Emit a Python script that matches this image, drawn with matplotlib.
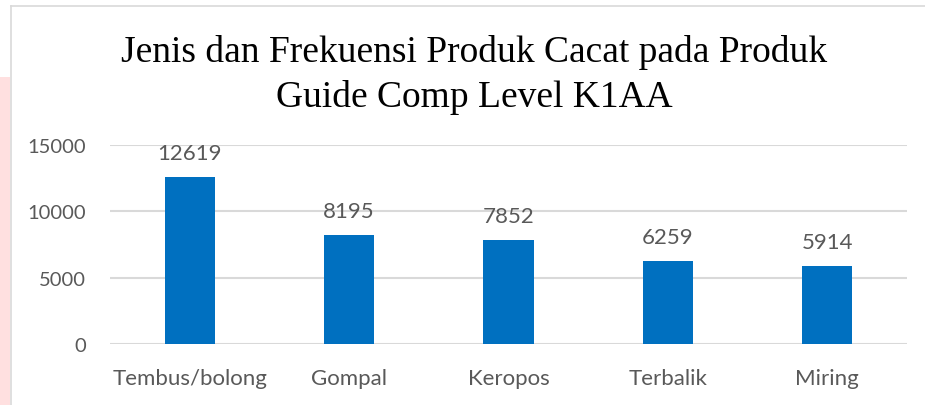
import matplotlib.pyplot as plt
from matplotlib.patches import Rectangle
from matplotlib.lines import Line2D

categories = ["Tembus/bolong", "Gompal", "Keropos", "Terbalik", "Miring"]
frequencies = [12619, 8195, 7852, 6259, 5914]
y_ticks = [0, 5000, 10000, 15000]

bar_color = "#0070C0"
text_color = "#595959"
grid_color = "#D9D9D9"

fig = plt.figure(figsize=(9.25, 4.06), dpi=100)

# pink strip on the left and the chart frame
fig.patches.append(Rectangle((0, 0), 10 / 925, 1 - 78 / 406, transform=fig.transFigure,
                             facecolor="#FFE0E0", edgecolor="none", zorder=0))
fig.lines.append(Line2D([10.5 / 925, 10.5 / 925], [0, 1 - 7 / 406], transform=fig.transFigure,
                        color=grid_color, lw=1.2))
fig.lines.append(Line2D([10.5 / 925, 1], [1 - 7 / 406, 1 - 7 / 406], transform=fig.transFigure,
                        color=grid_color, lw=1.2))

ax = fig.add_axes([110 / 925, 1 - 345 / 406, 797 / 925, 199 / 406])
x = range(len(categories))
bars = ax.bar(x, frequencies, width=0.315, color=bar_color, zorder=3)

ax.set_xlim(-0.5, len(categories) - 0.5)
ax.set_ylim(0, 15000)
ax.set_yticks(y_ticks)
ax.set_yticklabels([str(v) for v in y_ticks])
ax.set_xticks(list(x))
ax.set_xticklabels(categories)
ax.yaxis.grid(True, color=grid_color, lw=1.5, zorder=0)
ax.set_axisbelow(True)
for s in ax.spines.values():
    s.set_visible(False)
ax.tick_params(axis="both", length=0, colors=text_color)
ax.tick_params(axis="y", pad=17, labelsize=14.5)
ax.tick_params(axis="x", pad=17, labelsize=16)
for lbl in ax.get_xticklabels() + ax.get_yticklabels():
    lbl.set_family("Lato")

for b, v in zip(bars, frequencies):
    ax.annotate(str(v), (b.get_x() + b.get_width() / 2, v), xytext=(0, 10),
                textcoords="offset points", ha="center", va="bottom",
                fontsize=16, color=text_color, family="Lato")

fig.text(474 / 925, 1 - 75 / 406,
         "Jenis dan Frekuensi Produk Cacat pada Produk\nGuide Comp Level K1AA",
         ha="center", va="center", fontsize=27, family="Liberation Serif",
         color="black", linespacing=1.34)

fig.savefig("out.png", dpi=100)
